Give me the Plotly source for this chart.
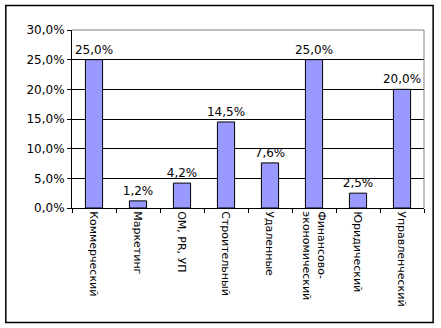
import plotly.graph_objects as go

# Department categories (two-line label uses <br>)
departments = [
    "Коммерческий",
    "Маркетинг",
    "ОМ, PR, УП",
    "Строительный",
    "Удаленные",
    "Финансово-<br>экономический",
    "Юридический",
    "Управленческий",
]
# Share of each department
shares = [0.250, 0.012, 0.042, 0.145, 0.076, 0.250, 0.025, 0.200]

y_ticks = [0.0, 0.05, 0.10, 0.15, 0.20, 0.25, 0.30]

font_family = "DejaVu Sans, Verdana, sans-serif"

fig = go.Figure(
    go.Bar(
        x=departments,
        y=shares,
        marker=dict(color="#9999FF", line=dict(color="black", width=1)),
        texttemplate="%{y:.1%}",
        textposition="outside",
        constraintext="none",
        textfont=dict(family=font_family, size=12, color="black"),
        cliponaxis=False,
        hoverinfo="skip",
    )
)

fig.update_layout(
    width=441,
    height=328,
    margin=dict(l=72, r=17, t=30, b=120),
    paper_bgcolor="white",
    plot_bgcolor="white",
    separators=", ",
    bargap=0.61,
    showlegend=False,
    uniformtext=dict(mode=False),
    font=dict(family=font_family, size=12, color="black"),
    shapes=[
        # outer chart frame
        dict(
            type="rect", xref="paper", yref="paper",
            x0=-0.188, x1=1.026, y0=-0.643, y1=1.137,
            line=dict(color="black", width=1.5), layer="below",
        ),
        # grey top/right edges of the plot area
        dict(
            type="path", xref="paper", yref="paper",
            path="M 0,1 L 1,1 L 1,0",
            line=dict(color="#808080", width=1), layer="above",
        ),
    ],
)

fig.update_yaxes(
    range=[0, 0.30],
    tickvals=y_ticks,
    tickformat=".1%",
    showgrid=True,
    gridcolor="black",
    gridwidth=1,
    showline=True,
    linecolor="black",
    linewidth=1,
    ticks="outside",
    ticklen=4,
    tickcolor="black",
    zeroline=False,
    tickfont=dict(family=font_family, size=12, color="black"),
    fixedrange=True,
)

fig.update_xaxes(
    type="category",
    tickangle=90,
    tickson="boundaries",
    ticks="outside",
    ticklen=4,
    tickcolor="black",
    showline=True,
    linecolor="black",
    linewidth=1,
    showgrid=False,
    tickfont=dict(family=font_family, size=11, color="black"),
    fixedrange=True,
)

fig.write_html("out.html")
